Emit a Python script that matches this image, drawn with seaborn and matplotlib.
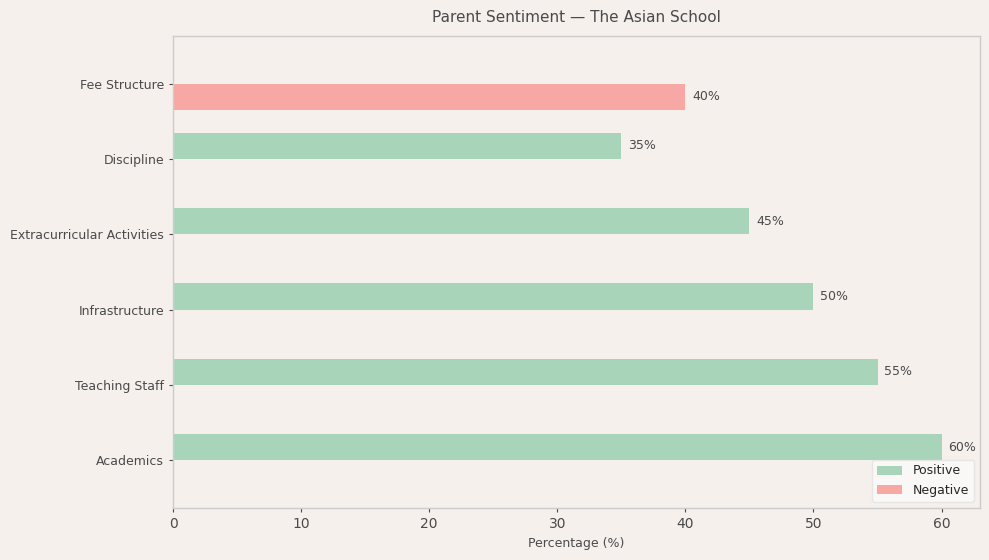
import matplotlib
matplotlib.use("Agg")
import matplotlib.pyplot as plt
import seaborn as sns
import pandas as pd

aspects = ["Fee Structure", "Discipline", "Extracurricular Activities",
           "Infrastructure", "Teaching Staff", "Academics"]
positive = [0, 35, 45, 50, 55, 60]
negative = [40, 0, 0, 0, 0, 0]
sentiments = ["Positive", "Negative"]
colors = ["#A8D5BA", "#F7A8A4"]

rows = []
for a, p, n in zip(aspects, positive, negative):
    rows.append({"Aspect": a, "Sentiment": "Positive", "Value": p})
    rows.append({"Aspect": a, "Sentiment": "Negative", "Value": n})
df = pd.DataFrame(rows)

bg = "#F5F0EC"
txt = "#4A4A4A"
sns.set_theme(style="white")
plt.rcParams["font.family"] = ["DejaVu Sans"]

fig = plt.figure(figsize=(9.89, 5.6), dpi=100, facecolor=bg)
ax = fig.add_axes([173/989, 1-508/560, (980-173)/989, (508-36)/560])
ax.set_facecolor(bg)

sns.barplot(data=df, x="Value", y="Aspect", hue="Sentiment", order=aspects,
            hue_order=sentiments, palette=colors, width=0.7, ax=ax,
            saturation=1, errorbar=None, linewidth=0, edgecolor="none")

for cont in ax.containers:
    labels = [f"{v:.0f}%" if v > 0 else "" for v in cont.datavalues]
    ax.bar_label(cont, labels=labels, padding=5, fontsize=9, color=txt)

ax.set_xlim(0, 63)
ax.set_ylim(5.635, -0.635)
ax.set_title("Parent Sentiment — The Asian School", fontsize=11, color=txt, pad=10)
ax.set_xlabel("Percentage (%)", fontsize=9, color=txt)
ax.set_ylabel("")
ax.tick_params(axis="y", labelsize=9, colors=txt, left=True, length=3, width=0.8)
ax.tick_params(axis="x", labelsize=10, colors=txt, bottom=True, length=3, width=0.8)
for s in ax.spines.values():
    s.set_color("#CCCCCC")
    s.set_linewidth(1)

leg = ax.legend(loc="lower right", fontsize=9, frameon=True, title=None)
leg.get_frame().set_facecolor("white")
leg.get_frame().set_alpha(0.6)
leg.get_frame().set_edgecolor("#DDDDDD")

fig.savefig("out.png", dpi=100, facecolor=bg)
